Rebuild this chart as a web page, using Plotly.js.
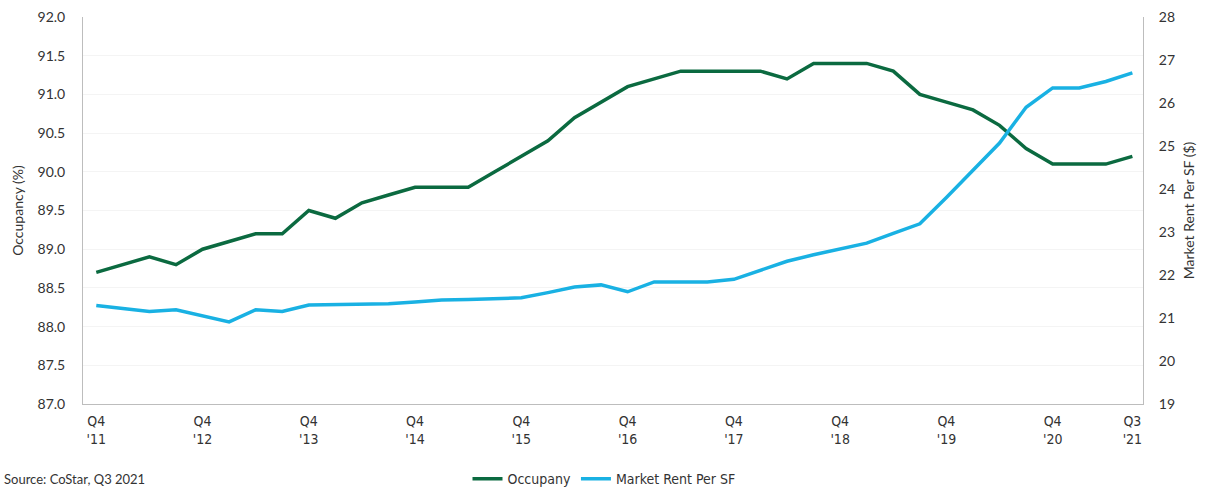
<!DOCTYPE html>
<html>
<head>
<meta charset="utf-8">
<script src="https://cdn.plot.ly/plotly-3.0.1.min.js"></script>
<style>
html,body{margin:0;padding:0;background:#fff;}
#chart{width:1208px;height:489px;}
</style>
</head>
<body>
<div id="chart"></div>
<script>
const quarters = [
  "Q4 '11","Q1 '12","Q2 '12","Q3 '12","Q4 '12","Q1 '13","Q2 '13","Q3 '13",
  "Q4 '13","Q1 '14","Q2 '14","Q3 '14","Q4 '14","Q1 '15","Q2 '15","Q3 '15",
  "Q4 '15","Q1 '16","Q2 '16","Q3 '16","Q4 '16","Q1 '17","Q2 '17","Q3 '17",
  "Q4 '17","Q1 '18","Q2 '18","Q3 '18","Q4 '18","Q1 '19","Q2 '19","Q3 '19",
  "Q4 '19","Q1 '20","Q2 '20","Q3 '20","Q4 '20","Q1 '21","Q2 '21","Q3 '21"
];
const occupancy = [
  88.7, 88.8, 88.9, 88.8, 89.0, 89.1, 89.2, 89.2,
  89.5, 89.4, 89.6, 89.7, 89.8, 89.8, 89.8, 90.0,
  90.2, 90.4, 90.7, 90.9, 91.1, 91.2, 91.3, 91.3,
  91.3, 91.3, 91.2, 91.4, 91.4, 91.4, 91.3, 91.0,
  90.9, 90.8, 90.6, 90.3, 90.1, 90.1, 90.1, 90.2
];
const marketRent = [
  21.29, 21.22, 21.15, 21.19, 21.05, 20.91, 21.19, 21.15,
  21.30, 21.31, 21.30, 21.33, 21.37, 21.42, 21.43, 21.45,
  21.47, 21.59, 21.72, 21.77, 21.61, 21.84, 21.84, 21.84,
  21.90, 22.10, 22.32, 22.47, 22.60, 22.74, 22.97, 23.19,
  23.80, 24.44, 25.07, 25.90, 26.35, 26.35, 26.50, 26.70
];
const tickLabels = ["Q4<br>'11","Q4<br>'12","Q4<br>'13","Q4<br>'14","Q4<br>'15","Q4<br>'16","Q4<br>'17","Q4<br>'18","Q4<br>'19","Q4<br>'20","Q3<br>'21"];
const tickQuarters = ["Q4 '11","Q4 '12","Q4 '13","Q4 '14","Q4 '15","Q4 '16","Q4 '17","Q4 '18","Q4 '19","Q4 '20","Q3 '21"];

const xIdx = quarters.map((q,i)=>i);
const tickIdx = tickQuarters.map(q=>quarters.indexOf(q));

const baseFont = "Lato, 'Noto Sans', sans-serif";
const narrowFont = "'Liberation Sans Narrow', 'DejaVu Sans Condensed', 'Roboto Condensed', sans-serif";

const traces = [
  {x:xIdx, y:occupancy, name:"Occupany", type:"scatter", mode:"lines",
   line:{color:"#0b6a40", width:3.5}, yaxis:"y", hoverinfo:"skip"},
  {x:xIdx, y:marketRent, name:"Market Rent Per SF", type:"scatter", mode:"lines",
   line:{color:"#19b1e3", width:3.5}, yaxis:"y2", hoverinfo:"skip"}
];

const layout = {
  width:1208, height:489,
  margin:{l:83, r:65, t:17, b:85, pad:0, autoexpand:false},
  paper_bgcolor:"#fff", plot_bgcolor:"#fff",
  showlegend:true,
  legend:{orientation:"h", xref:"container", x:0.5, xanchor:"center",
    yref:"container", y:0.02, yanchor:"middle",
    font:{family:narrowFont, size:14, color:"#333"}, itemwidth:30, tracegroupgap:0},
  xaxis:{range:[-0.5,39.4], tickmode:"array", tickvals:tickIdx, ticktext:tickLabels,
    showgrid:false, zeroline:false, showline:true, linecolor:"#bdbdbd", linewidth:1,
    ticks:"", tickfont:{family:narrowFont, size:14, color:"#333"}, ticklabelstandoff:4,
    automargin:false, fixedrange:true},
  yaxis:{range:[87,92], dtick:0.5, tick0:87, tickformat:".1f", showgrid:true, gridcolor:"#f4f4f4",
    zeroline:false, showline:true, linecolor:"#bdbdbd", linewidth:1, ticks:"", automargin:false,
    tickfont:{family:baseFont, size:14, color:"#333"}, ticklabelstandoff:14,
    title:{text:"Occupancy (%)", font:{family:baseFont, size:14, color:"#333"}, standoff:10}},
  yaxis2:{range:[19,28], dtick:1, overlaying:"y", side:"right", showgrid:false, automargin:false,
    zeroline:false, showline:true, linecolor:"#bdbdbd", linewidth:1, ticks:"",
    tickfont:{family:baseFont, size:14, color:"#333"}, ticklabelstandoff:12,
    title:{text:"Market Rent Per SF ($)", font:{family:baseFont, size:14, color:"#333"}, standoff:10}},
  annotations:[{text:"Source: CoStar, Q3 2021", xref:"paper", yref:"paper",
    x:-0.076, xanchor:"left", y:-0.168, yanchor:"top", showarrow:false,
    font:{family:baseFont, size:13, color:"#333"}}]
};

Plotly.newPlot("chart", traces, layout, {staticPlot:true, displayModeBar:false});
</script>
</body>
</html>
